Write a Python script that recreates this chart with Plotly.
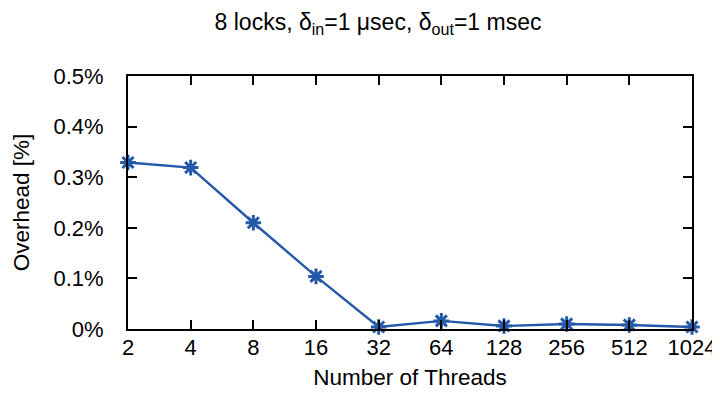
import plotly.graph_objects as go

threads = ["2", "4", "8", "16", "32", "64", "128", "256", "512", "1024"]
overhead = [0.329, 0.319, 0.210, 0.104, 0.004, 0.016, 0.006, 0.010, 0.008, 0.004]
y_ticks = [0, 0.1, 0.2, 0.3, 0.4, 0.5]
y_tick_labels = ["0%", "0.1%", "0.2%", "0.3%", "0.4%", "0.5%"]

color = "#2458a8"
font = "Liberation Sans, Arial, Helvetica, sans-serif"

fig = go.Figure()
fig.add_trace(go.Scatter(
    x=list(range(len(threads))), y=overhead, mode="lines+markers",
    line=dict(color=color, width=2.4),
    marker=dict(symbol="asterisk-open", size=13, color=color, line=dict(color=color, width=3)),
    cliponaxis=False, showlegend=False,
))

fig.update_layout(
    width=720, height=393,
    margin=dict(l=117, r=26, t=68, b=72),
    paper_bgcolor="white", plot_bgcolor="white",
    font=dict(family=font, size=22, color="black"),
    title=dict(text="8 locks, δ<sub>in</sub>=1 μsec, δ<sub>out</sub>=1 msec",
               x=370/720, xanchor="center", y=1-14/393, yanchor="middle",
               font=dict(family=font, size=23, color="black")),
)
fig.update_xaxes(
    tickvals=list(range(len(threads))), ticktext=threads, range=[0, 9],
    showline=True, linecolor="black", linewidth=2, mirror="ticks",
    ticks="inside", ticklen=9, tickwidth=1.5, tickcolor="black",
    showgrid=False, zeroline=False,
    title=dict(text="Number of Threads", standoff=10, font=dict(family=font, size=22.5, color="black")),
    ticklabelstandoff=-2,
)
fig.update_yaxes(
    tickvals=y_ticks, ticktext=y_tick_labels, range=[0, 0.5],
    showline=True, linecolor="black", linewidth=2, mirror="ticks",
    ticks="inside", ticklen=9, tickwidth=1.5, tickcolor="black",
    showgrid=False, zeroline=False,
    title=dict(text="Overhead [%]", standoff=18, font=dict(family=font, size=22.5, color="black")),
    ticklabelstandoff=18,
)

fig.write_html("out.html")
